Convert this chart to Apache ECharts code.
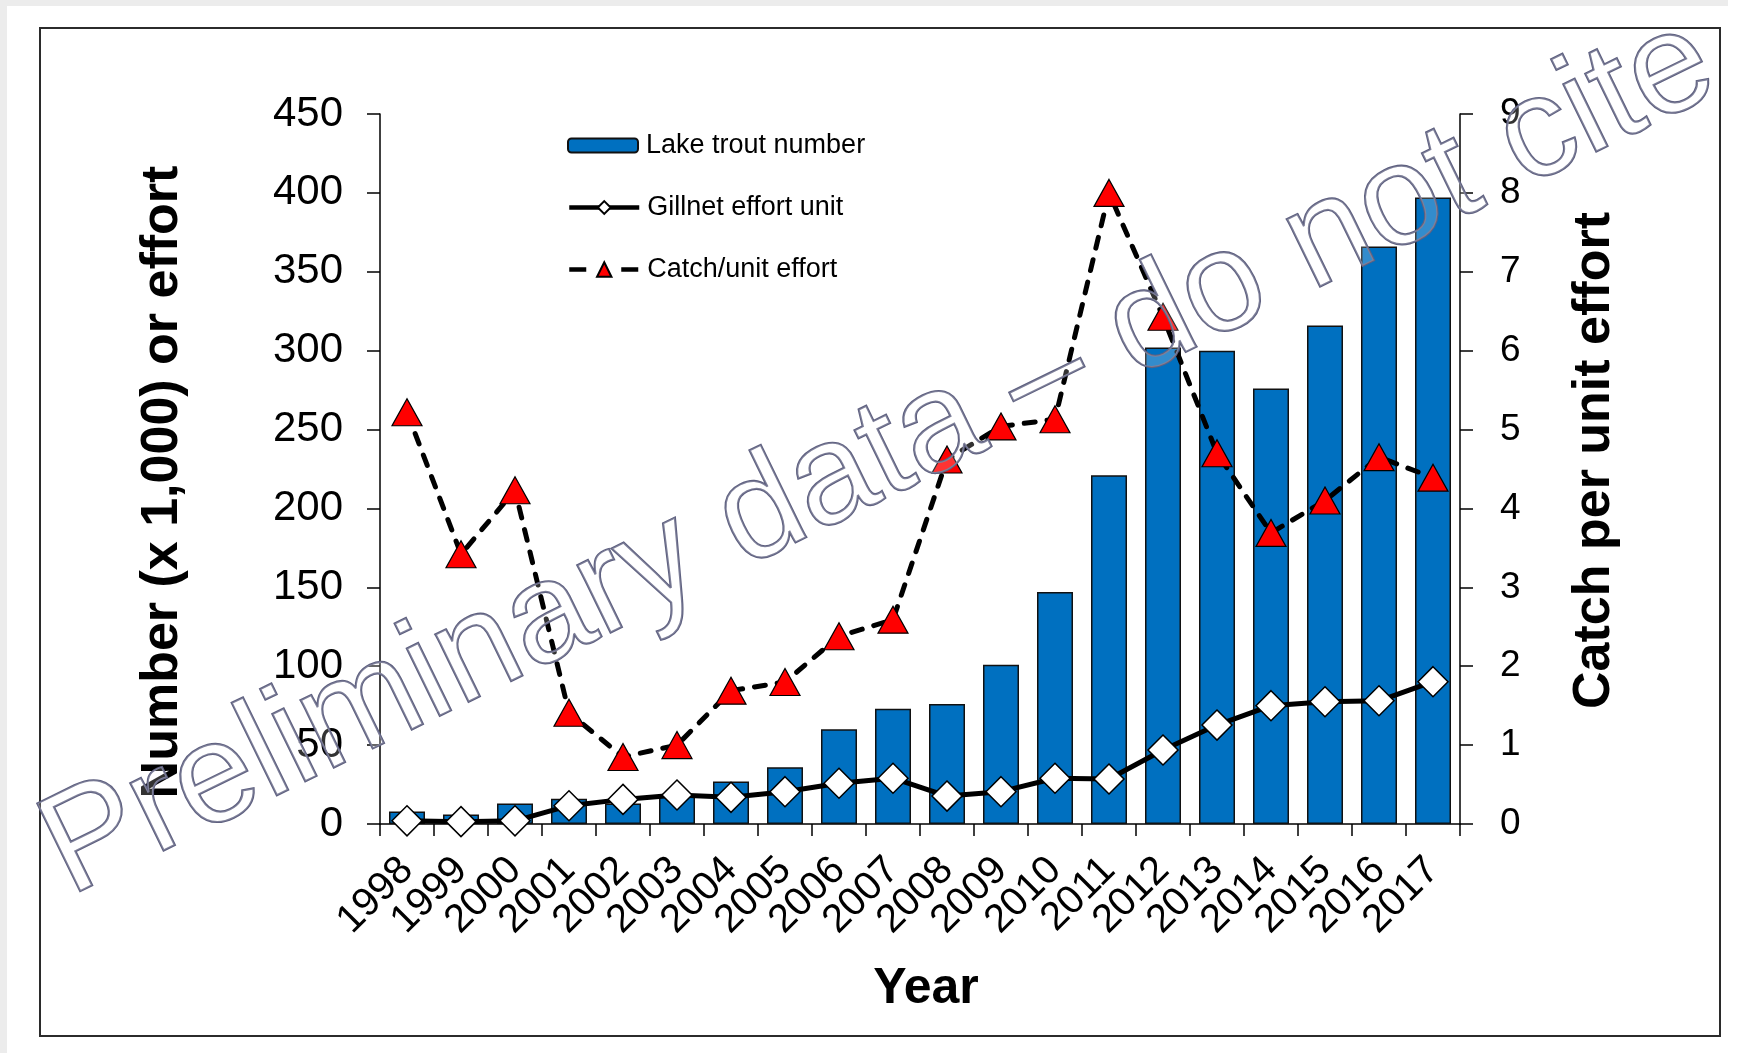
<!DOCTYPE html>
<html>
<head>
<meta charset="utf-8">
<script src="https://cdn.jsdelivr.net/npm/echarts@6/dist/echarts.min.js"></script>
<style>
html,body{margin:0;padding:0;background:#fff;}
#chart{width:1744px;height:1053px;}
</style>
</head>
<body>
<div id="chart"></div>
<script>
// ---- data ----
const years = ['1998','1999','2000','2001','2002','2003','2004','2005','2006','2007','2008','2009','2010','2011','2012','2013','2014','2015','2016','2017'];
const troutNumber = [8, 6, 13, 16, 13, 18, 27, 36, 60, 73, 76, 101, 147, 221, 302, 300, 276, 316, 366, 397];
const gillnetEffort = [2, 1.5, 2, 11.6, 15.6, 18.4, 16.9, 20.5, 25.8, 29, 17.7, 20.5, 29, 28.5, 46.9, 62.7, 75, 77.5, 78.1, 90.2];
const cpue = [5.22, 3.42, 4.23, 1.41, 0.85, 1.0, 1.69, 1.80, 2.38, 2.59, 4.62, 5.04, 5.13, 8.0, 6.43, 4.70, 3.69, 4.10, 4.65, 4.39];
const seriesNames = ['Lake trout number', 'Gillnet effort unit', 'Catch/unit effort'];
const leftTitle = 'Number (x 1,000) or effort';
const rightTitle = 'Catch per unit effort';
const xTitle = 'Year';
const watermark = 'Preliminary data \u2013 do not cite';

const FF = 'Arial, "Liberation Sans", Helvetica, sans-serif';
const chart = echarts.init(document.getElementById('chart'), null, {renderer: 'canvas'});

function legendAt(name, top, h, lineStyle) {
  return {
    data: [name], left: 567, top: top, orient: 'vertical',
    itemWidth: 70, itemHeight: h, padding: 0,
    lineStyle: lineStyle || {width: 4.5},
    textStyle: {fontFamily: FF, fontSize: 27, color: '#000', padding: [0, 0, 0, 3]},
    selectedMode: false
  };
}

const option = {
  animation: false,
  backgroundColor: 'transparent',
  textStyle: {fontFamily: FF},
  grid: {left: 380, top: 114, right: 284, bottom: 229, containLabel: false},
  legend: [
    legendAt(seriesNames[0], 132, 14),
    legendAt(seriesNames[1], 194, 16),
    legendAt(seriesNames[2], 256, 18, {width: 4.5, type: [17, 35], cap: 'butt'})
  ],
  xAxis: {
    type: 'category', data: years, boundaryGap: true,
    name: xTitle, nameLocation: 'middle', nameGap: 140,
    nameTextStyle: {fontFamily: FF, fontSize: 50, fontWeight: 'bold', color: '#000', padding: [0, 0, 0, 12]},
    axisLine: {lineStyle: {color: '#000', width: 1.5}},
    axisTick: {show: true, length: 12, lineStyle: {color: '#000', width: 1.5}},
    axisLabel: {rotate: 45, fontSize: 40, color: '#000', fontFamily: FF, margin: 40, interval: 0}
  },
  yAxis: [
    {
      type: 'value', min: 0, max: 450, interval: 50, position: 'left',
      name: leftTitle, nameLocation: 'middle', nameRotate: 90, nameGap: 191,
      nameTextStyle: {fontFamily: FF, fontSize: 52, fontWeight: 'bold', color: '#000', padding: [0, 26, 0, 0]},
      axisLine: {show: true, lineStyle: {color: '#000', width: 1.5}},
      axisTick: {show: true, length: 13, lineStyle: {color: '#000', width: 1.5}},
      axisLabel: {fontSize: 42, color: '#000', fontFamily: FF, margin: 37},
      splitLine: {show: false}
    },
    {
      type: 'value', min: 0, max: 9, interval: 1, position: 'right',
      name: rightTitle, nameLocation: 'middle', nameRotate: 90, nameGap: 109,
      nameTextStyle: {fontFamily: FF, fontSize: 52, fontWeight: 'bold', color: '#000', padding: [0, 0, 0, 17]},
      axisLine: {show: true, lineStyle: {color: '#000', width: 1.5}},
      axisTick: {show: true, length: 13, lineStyle: {color: '#000', width: 1.5}},
      axisLabel: {fontSize: 37, color: '#000', fontFamily: FF, margin: 40},
      splitLine: {show: false}
    }
  ],
  series: [
    {
      name: seriesNames[0], type: 'bar', yAxisIndex: 0, data: troutNumber,
      barWidth: 36,
      itemStyle: {color: '#0070C0', borderColor: '#111', borderWidth: 1.5},
      z: 2
    },
    {
      name: seriesNames[1], type: 'line', yAxisIndex: 0, data: gillnetEffort,
      symbol: 'diamond', symbolSize: 30,
      lineStyle: {color: '#000', width: 5},
      itemStyle: {color: '#fff', borderColor: '#000', borderWidth: 1.5},
      z: 3
    },
    {
      name: seriesNames[2], type: 'line', yAxisIndex: 1, data: cpue,
      symbol: 'triangle', symbolSize: [30, 27],
      lineStyle: {color: '#000', width: 5, type: [11, 12], cap: 'round'},
      itemStyle: {color: '#FF0000', borderColor: '#000', borderWidth: 1.2},
      z: 4
    }
  ],
  graphic: [
    {type: 'rect', z: -10, silent: true, shape: {x: 0, y: 0, width: 1728, height: 6}, style: {fill: '#ececec'}},
    {type: 'rect', z: -10, silent: true, shape: {x: 0, y: 0, width: 7, height: 1053}, style: {fill: '#ececec'}},
    {type: 'rect', z: -5, silent: true, shape: {x: 40, y: 28, width: 1680, height: 1008}, style: {fill: 'none', stroke: '#2b2b2b', lineWidth: 2}},
    {
      type: 'text', z: 100, silent: true,
      x: 879, y: 458, rotation: 26 * Math.PI / 180,
      style: {
        text: watermark, font: '142px ' + FF,
        textAlign: 'center', textVerticalAlign: 'middle',
        fill: 'rgba(255,255,255,0.2)', stroke: '#5f6180', lineWidth: 2.2,
        shadowBlur: 6, shadowColor: 'rgba(0,0,0,0.35)', shadowOffsetX: 3, shadowOffsetY: 3
      }
    }
  ]
};
chart.setOption(option);
</script>
</body>
</html>
